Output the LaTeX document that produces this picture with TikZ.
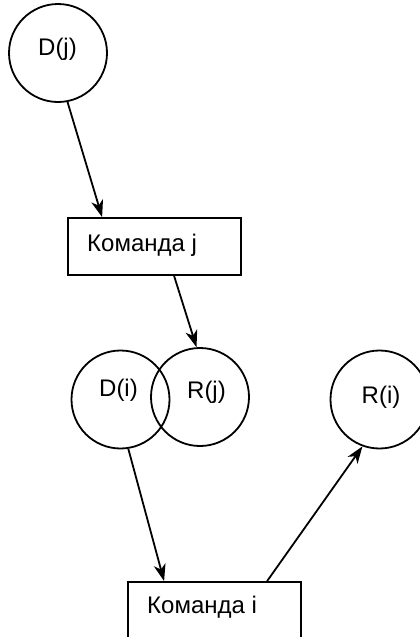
\documentclass[tikz,border=0pt]{standalone}
\usepackage{fontspec}
\setmainfont{Liberation Sans}
\usetikzlibrary{arrows.meta}
\begin{document}
\begin{tikzpicture}[x=1pt,y=-1pt,
  circ/.style={draw, circle, line width=1.8pt, minimum size=98pt, inner sep=0pt},
  box/.style={draw, rectangle, line width=1.8pt, minimum width=173pt, minimum height=57pt, inner sep=0pt},
  txt/.style={font=\fontsize{24}{28}\selectfont, inner sep=0pt},
  arr/.style={line width=1.8pt, -{Stealth[length=17pt,width=12pt,inset=5pt]}}]
\useasboundingbox (0,0) rectangle (420,637);
\clip (0,0) rectangle (420,637);

% sets
\node[circ] (Dj) at (58,53) {};
\node[circ] (Di) at (120.5,399.5) {};
\node[circ] (Rj) at (200,397) {};
\node[circ] (Ri) at (379.5,399.5) {};

% commands
\node[box] (boxj) at (154.5,246.5) {};
\node[box] (boxi) at (214.5,610.5) {};

% labels
\node[txt, anchor=base] (tDj) at (57.5,55) {D(j)};
\node[txt, anchor=base] (tDi) at (118.5,396) {D(i)};
\node[txt, anchor=base] (tRj) at (206.5,398) {R(j)};
\node[txt, anchor=base] (tRi) at (381,403) {R(i)};
\node[txt, anchor=base west] (tboxj) at (87,251) {Команда j};
\node[txt, anchor=base west] (tboxi) at (147,613) {Команда i};

% data flow
\draw[arr] (Dj.-79) -- ([xshift=35pt]boxj.north west);
\draw[arr] ([xshift=107pt]boxj.south west) -- (Rj.94);
\draw[arr] (Di.-81) -- ([xshift=37pt]boxi.north west);
\draw[arr] ([xshift=140pt]boxi.north west) -- (Ri.-110);
\end{tikzpicture}
\end{document}
